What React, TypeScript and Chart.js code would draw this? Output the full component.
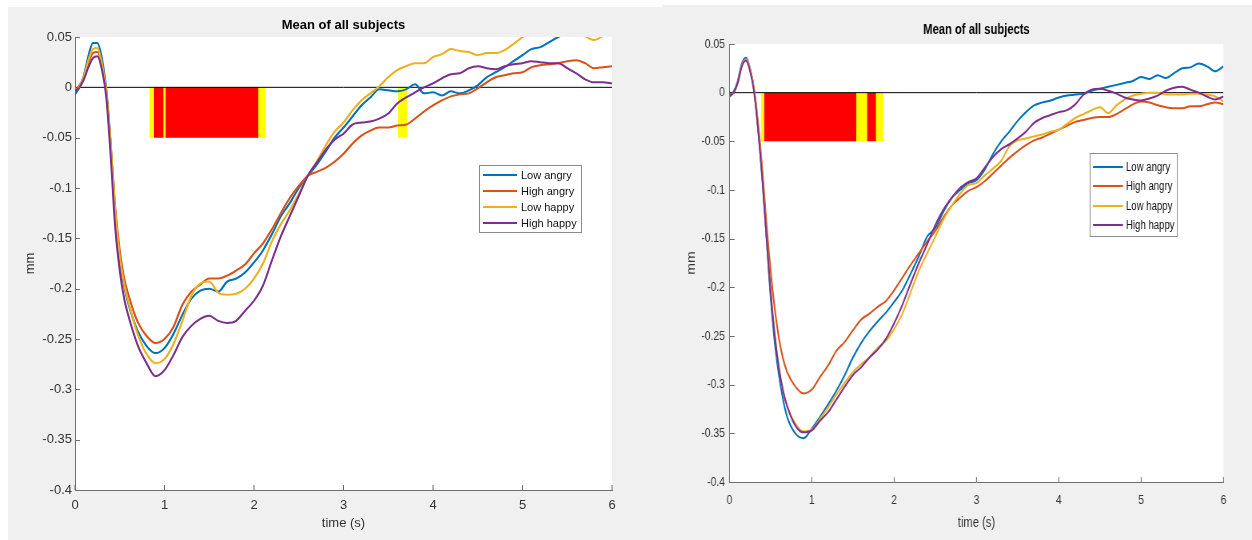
import React, { useEffect, useRef } from "react";
import { Chart, registerables } from "chart.js";

Chart.register(...registerables);

// ---------------- data ----------------
const SERIES_LABELS = ["Low angry", "High angry", "Low happy", "High happy"];
const SERIES_COLORS = ["#0072BD", "#D95319", "#EDB120", "#7E2F8E"];
const PANEL_TITLE = "Mean of all subjects";
const X_TITLE = "time (s)";
const Y_TITLE = "mm";
const X_TICKS = [0, 1, 2, 3, 4, 5, 6];
const Y_TICKS = [0.05, 0, -0.05, -0.1, -0.15, -0.2, -0.25, -0.3, -0.35, -0.4];
const SHADE_DEPTH = -0.05;

const LEFT_TIME = [0, 0.05, 0.1, 0.15, 0.2, 0.25, 0.3, 0.35, 0.4, 0.45, 0.5, 0.55, 0.6,
  0.7, 0.8, 0.9, 1.0, 1.1, 1.2, 1.3, 1.4, 1.5, 1.6, 1.7, 1.8, 1.9, 2.0, 2.1, 2.2, 2.3, 2.4, 2.5, 2.6, 2.7, 2.8, 2.9,
  3.0, 3.1, 3.2, 3.3, 3.4, 3.5, 3.6, 3.7, 3.8, 3.9, 4.0, 4.1, 4.2, 4.3, 4.4, 4.5, 4.6, 4.7, 4.8, 4.9,
  5.0, 5.1, 5.2, 5.3, 5.4, 5.5, 5.6, 5.7, 5.8, 5.9, 6.0];
const LEFT_LOW_ANGRY = [-0.007, 0.0, 0.012, 0.031, 0.044, 0.044, 0.029, -0.002, -0.058, -0.125, -0.172, -0.198, -0.216,
  -0.242, -0.257, -0.264, -0.259, -0.245, -0.226, -0.21, -0.202, -0.2, -0.203, -0.193, -0.19, -0.184, -0.174, -0.162, -0.146, -0.128, -0.115, -0.1, -0.088, -0.077, -0.064, -0.05,
  -0.04, -0.029, -0.018, -0.01, -0.002, -0.003, -0.004, -0.002, 0.003, -0.006, -0.005, -0.008, -0.004, -0.006, -0.003, 0.002, 0.01, 0.015, 0.02, 0.026,
  0.032, 0.038, 0.04, 0.045, 0.05, 0.054, 0.057, 0.06, 0.063, 0.066, 0.068];
const LEFT_HIGH_ANGRY = [-0.003, 0.002, 0.01, 0.024, 0.034, 0.035, 0.022, -0.005, -0.06, -0.12, -0.162, -0.19, -0.207,
  -0.233, -0.247, -0.254, -0.25, -0.238, -0.216, -0.203, -0.196, -0.19, -0.19, -0.187, -0.182, -0.176, -0.165, -0.155, -0.141, -0.125, -0.11, -0.098, -0.088, -0.084, -0.08, -0.074,
  -0.066, -0.056, -0.048, -0.043, -0.04, -0.04, -0.038, -0.037, -0.031, -0.024, -0.018, -0.013, -0.009, -0.007, -0.006, -0.001, 0.005, 0.01, 0.012, 0.014,
  0.015, 0.02, 0.022, 0.023, 0.024, 0.026, 0.027, 0.024, 0.019, 0.02, 0.021];
const LEFT_LOW_HAPPY = [-0.004, 0.001, 0.011, 0.027, 0.038, 0.039, 0.024, -0.004, -0.058, -0.122, -0.168, -0.196, -0.214,
  -0.245, -0.265, -0.274, -0.27, -0.255, -0.232, -0.207, -0.195, -0.193, -0.204, -0.206, -0.205, -0.2, -0.19, -0.175, -0.153, -0.136, -0.122, -0.106, -0.088, -0.074, -0.058, -0.044,
  -0.035, -0.023, -0.013, -0.006, 0.001, 0.01, 0.017, 0.021, 0.024, 0.024, 0.03, 0.033, 0.038, 0.036, 0.035, 0.032, 0.034, 0.034, 0.037, 0.043,
  0.05, 0.056, 0.06, 0.062, 0.064, 0.064, 0.06, 0.051, 0.047, 0.051, 0.056];
const LEFT_HIGH_HAPPY = [-0.004, 0.0, 0.008, 0.02, 0.029, 0.031, 0.018, -0.01, -0.07, -0.14, -0.182, -0.21, -0.228,
  -0.256, -0.274, -0.287, -0.281, -0.266, -0.248, -0.237, -0.23, -0.227, -0.232, -0.234, -0.232, -0.222, -0.212, -0.197, -0.172, -0.148, -0.128, -0.108, -0.088, -0.075, -0.062, -0.052,
  -0.046, -0.037, -0.035, -0.034, -0.031, -0.026, -0.016, -0.01, -0.005, 0.0, 0.004, 0.009, 0.013, 0.014, 0.019, 0.021, 0.019, 0.018, 0.021, 0.023,
  0.024, 0.026, 0.025, 0.024, 0.024, 0.019, 0.014, 0.008, 0.005, 0.005, 0.004];
const LEFT_YELLOW = [[0.83, 2.13], [3.61, 3.71]];
const LEFT_RED = [[0.88, 0.99], [1.01, 2.05]];

const RIGHT_TIME = [0, 0.05, 0.1, 0.15, 0.2, 0.25, 0.3, 0.35, 0.4, 0.45, 0.5, 0.55, 0.6, 0.65, 0.7,
  0.8, 0.9, 1.0, 1.1, 1.2, 1.3, 1.4, 1.5, 1.6, 1.7, 1.8, 1.9, 2.0, 2.1, 2.2, 2.3, 2.4, 2.5, 2.6, 2.7, 2.8, 2.9,
  3.0, 3.1, 3.2, 3.3, 3.4, 3.5, 3.6, 3.7, 3.8, 3.9, 4.0, 4.1, 4.2, 4.3, 4.4, 4.5, 4.6, 4.7, 4.8, 4.9,
  5.0, 5.1, 5.2, 5.3, 5.4, 5.5, 5.6, 5.7, 5.8, 5.9, 6.0];
const RIGHT_LOW_ANGRY = [-0.003, 0.001, 0.012, 0.03, 0.036, 0.025, 0.002, -0.04, -0.09, -0.15, -0.21, -0.257, -0.29, -0.315, -0.333,
  -0.35, -0.355, -0.345, -0.333, -0.32, -0.306, -0.29, -0.272, -0.257, -0.245, -0.235, -0.226, -0.215, -0.203, -0.186, -0.168, -0.148, -0.139, -0.122, -0.108, -0.1, -0.093,
  -0.09, -0.079, -0.063, -0.05, -0.04, -0.029, -0.02, -0.013, -0.01, -0.008, -0.005, -0.003, -0.002, -0.001, 0.002, 0.004, 0.006, 0.008, 0.01, 0.012,
  0.016, 0.014, 0.018, 0.015, 0.02, 0.025, 0.026, 0.03, 0.027, 0.022, 0.027];
const RIGHT_HIGH_ANGRY = [-0.003, 0.0, 0.01, 0.028, 0.034, 0.024, 0.003, -0.033, -0.08, -0.135, -0.183, -0.222, -0.252, -0.273, -0.287,
  -0.302, -0.309, -0.305, -0.292, -0.28, -0.265, -0.256, -0.244, -0.233, -0.227, -0.22, -0.214, -0.203, -0.19, -0.177, -0.165, -0.153, -0.142, -0.128, -0.116, -0.108, -0.101,
  -0.097, -0.091, -0.083, -0.075, -0.067, -0.06, -0.054, -0.049, -0.046, -0.042, -0.038, -0.034, -0.03, -0.028, -0.026, -0.025, -0.025, -0.022, -0.017, -0.012,
  -0.009, -0.01, -0.013, -0.015, -0.016, -0.016, -0.014, -0.014, -0.012, -0.01, -0.012];
const RIGHT_LOW_HAPPY = [-0.004, 0.0, 0.01, 0.028, 0.034, 0.024, 0.002, -0.037, -0.087, -0.146, -0.203, -0.248, -0.282, -0.306, -0.322,
  -0.34, -0.348, -0.346, -0.335, -0.323, -0.31, -0.298, -0.287, -0.279, -0.272, -0.262, -0.255, -0.243, -0.227, -0.205, -0.183, -0.165, -0.148, -0.13, -0.116, -0.104, -0.095,
  -0.093, -0.085, -0.078, -0.07, -0.055, -0.049, -0.047, -0.045, -0.043, -0.04, -0.038, -0.032, -0.026, -0.022, -0.018, -0.015, -0.021, -0.013, -0.007, -0.003,
  -0.001, 0.0, 0.0, -0.002, -0.002, -0.002, -0.001, -0.001, -0.002, -0.004, -0.009];
const RIGHT_HIGH_HAPPY = [-0.004, 0.0, 0.01, 0.027, 0.033, 0.022, 0.0, -0.04, -0.09, -0.148, -0.205, -0.25, -0.283, -0.306, -0.322,
  -0.342, -0.349, -0.347, -0.337, -0.328, -0.315, -0.302, -0.29, -0.282, -0.272, -0.264, -0.253, -0.237, -0.218, -0.196, -0.175, -0.156, -0.136, -0.12, -0.108, -0.098, -0.092,
  -0.088, -0.077, -0.066, -0.058, -0.053, -0.047, -0.04, -0.031, -0.026, -0.023, -0.02, -0.018, -0.012, -0.002, 0.003, 0.004, 0.002, -0.001, -0.005, -0.007,
  -0.008, -0.006, -0.003, 0.002, 0.005, 0.006, 0.003, 0.0, -0.004, -0.007, -0.004];
const RIGHT_YELLOW = [[0.38, 1.87]];
const RIGHT_RED = [[0.42, 1.54], [1.67, 1.78]];

// ---------------- layout / style ----------------
const FONT = "'Liberation Sans', Arial, Helvetica, sans-serif";
const AXIS_COLOR = "#6e6e6e";
const TEXT_COLOR = "#333333";
const PANEL_BG = "#f0f0f0";

type Layout = {
  canvasLeft: number; canvasTop: number; cssWidth: number; height: number; sx: number;
  plotLeft: number; plotRight: number; plotTop: number; plotBottom: number;
  titleSize: number; titleY: number;
  tickSize: number; yLabelRight: number; xLabelY: number;
  axisTitleSize: number; xTitleY: number; yTitleX: number;
  tickLen: number;
  legendSize: number; legendBox: number[]; legendLine: number[]; legendText: number; legendRows: number[];
};

const LEFT_LAYOUT: Layout = {
  canvasLeft: 8, canvasTop: 7, cssWidth: 654, height: 533, sx: 1,
  plotLeft: 75, plotRight: 612, plotTop: 37, plotBottom: 490,
  titleSize: 13, titleY: 25,
  tickSize: 13, yLabelRight: 72, xLabelY: 505,
  axisTitleSize: 13, xTitleY: 523, yTitleX: 30,
  tickLen: 5,
  legendSize: 11, legendBox: [479, 165, 581, 232], legendLine: [483, 517], legendText: 521, legendRows: [175, 191, 207, 223],
};

const RIGHT_LAYOUT: Layout = {
  canvasLeft: 662, canvasTop: 5, cssWidth: 590, height: 535, sx: 0.8,
  plotLeft: 729.5, plotRight: 1223.5, plotTop: 44, plotBottom: 482,
  titleSize: 14, titleY: 30,
  tickSize: 13, yLabelRight: 725, xLabelY: 500,
  axisTitleSize: 14, xTitleY: 523, yTitleX: 692,
  tickLen: 5,
  legendSize: 12, legendBox: [1090, 153, 1177, 236], legendLine: [1093, 1123], legendText: 1126, legendRows: [167, 186, 206, 225],
};

type PanelProps = {
  layout: Layout;
  time: number[];
  series: number[][];
  yellow: number[][];
  red: number[][];
};

function ChartPanel({ layout: L, time, series, yellow, red }: PanelProps) {
  const ref = useRef<HTMLCanvasElement | null>(null);
  const internalW = Math.round(L.cssWidth / L.sx);
  const sx = L.cssWidth / internalW;

  useEffect(() => {
    const canvas = ref.current;
    if (!canvas) return;
    const px = (x: number) => (x - L.canvasLeft) / sx;
    const py = (y: number) => y - L.canvasTop;

    const yAxisW = px(L.plotLeft);
    const padRight = internalW - px(L.plotRight);
    const padTop = py(L.plotTop);
    const xAxisH = L.height - py(L.plotBottom);
    const tickLH = L.tickSize * 1.2;
    const yTickPad = Math.max(0, yAxisW - px(L.yLabelRight));
    const xTickPad = py(L.xLabelY) - py(L.plotBottom) - tickLH / 2;
    const axLH = L.axisTitleSize * 1.2;
    const xTitlePadBottom = L.height - py(L.xTitleY) - axLH / 2;
    const yTitlePadTop = px(L.yTitleX) - axLH / 2;

    const datasets: any[] = [];
    yellow.forEach(([a, b]) => datasets.push({
      label: "_yellow", data: [{ x: a, y: 0 }, { x: b, y: 0 }],
      borderWidth: 0, borderColor: "rgba(0,0,0,0)", backgroundColor: "#ffff00",
      fill: { value: SHADE_DEPTH }, pointRadius: 0, order: 20,
    }));
    red.forEach(([a, b]) => datasets.push({
      label: "_red", data: [{ x: a, y: 0 }, { x: b, y: 0 }],
      borderWidth: 0, borderColor: "rgba(0,0,0,0)", backgroundColor: "#ff0000",
      fill: { value: SHADE_DEPTH }, pointRadius: 0, order: 19,
    }));
    datasets.push({
      label: "_zero", data: [{ x: X_TICKS[0], y: 0 }, { x: X_TICKS[X_TICKS.length - 1], y: 0 }],
      borderWidth: 1, borderColor: "#000000", pointRadius: 0, fill: false, order: 10,
    });
    series.forEach((vals, i) => datasets.push({
      label: SERIES_LABELS[i],
      data: time.map((t, k) => ({ x: t, y: vals[k] })),
      borderColor: SERIES_COLORS[i], borderWidth: 2, pointRadius: 0, fill: false,
      cubicInterpolationMode: "monotone", order: 4 - i,
    }));

    const deco = {
      id: "deco",
      beforeDraw(chart: any) {
        const { ctx, chartArea: a } = chart;
        ctx.save();
        ctx.fillStyle = "#ffffff";
        ctx.fillRect(a.left, a.top, a.right - a.left, a.bottom - a.top);
        ctx.restore();
      },
      afterDraw(chart: any) {
        const { ctx, chartArea: a } = chart;
        const xs = chart.scales.x;
        const ys = chart.scales.y;
        ctx.save();
        // title centred over the axes
        ctx.fillStyle = "#000000";
        ctx.font = `bold ${L.titleSize}px ${FONT}`;
        ctx.textAlign = "center";
        ctx.textBaseline = "middle";
        ctx.fillText(PANEL_TITLE, (a.left + a.right) / 2, py(L.titleY));

        // inward tick marks
        ctx.strokeStyle = AXIS_COLOR;
        ctx.lineWidth = 1;
        ctx.beginPath();
        xs.ticks.forEach((t: any) => {
          const x = xs.getPixelForValue(t.value);
          ctx.moveTo(x, a.bottom);
          ctx.lineTo(x, a.bottom - L.tickLen);
        });
        ys.ticks.forEach((t: any) => {
          const y = Math.round(ys.getPixelForValue(t.value)) + 0.5;
          ctx.moveTo(a.left, y);
          ctx.lineTo(a.left + L.tickLen / sx, y);
        });
        ctx.stroke();

        // legend inside the axes
        const [bx0, by0, bx1, by1] = L.legendBox;
        const X0 = px(bx0), Y0 = py(by0), X1 = px(bx1), Y1 = py(by1);
        ctx.fillStyle = "#ffffff";
        ctx.fillRect(X0, Y0, X1 - X0, Y1 - Y0);
        ctx.strokeStyle = "#8a8a8a";
        ctx.lineWidth = 1;
        ctx.strokeRect(Math.round(X0) + 0.5, Math.round(Y0) + 0.5, Math.round(X1 - X0), Math.round(Y1 - Y0));
        ctx.font = `${L.legendSize}px ${FONT}`;
        ctx.textBaseline = "middle";
        ctx.textAlign = "left";
        SERIES_LABELS.forEach((lab, i) => {
          const y = py(L.legendRows[i]);
          ctx.strokeStyle = SERIES_COLORS[i];
          ctx.lineWidth = 2.2;
          ctx.beginPath();
          ctx.moveTo(px(L.legendLine[0]), y);
          ctx.lineTo(px(L.legendLine[1]), y);
          ctx.stroke();
          ctx.fillStyle = "#111111";
          ctx.fillText(lab, px(L.legendText), y + 0.5);
        });
        ctx.restore();
      },
    };

    const tickFont = { family: FONT, size: L.tickSize };
    const axFont = { family: FONT, size: L.axisTitleSize };

    const chart = new Chart(canvas, {
      type: "line",
      data: { datasets },
      plugins: [deco],
      options: {
        responsive: false,
        animation: false,
        devicePixelRatio: 1,
        events: [],
        layout: { padding: { left: 0, top: padTop, right: padRight, bottom: 0 } },
        plugins: {
          legend: { display: false },
          tooltip: { enabled: false },
          title: { display: false },
        },
        scales: {
          x: {
            type: "linear",
            min: X_TICKS[0],
            max: X_TICKS[X_TICKS.length - 1],
            afterBuildTicks: (s: any) => { s.ticks = X_TICKS.map((v) => ({ value: v })); },
            afterFit: (s: any) => { s.height = xAxisH; },
            ticks: {
              autoSkip: false, maxRotation: 0, font: tickFont, color: TEXT_COLOR, padding: xTickPad,
              callback: (v: any) => String(v),
            },
            grid: { display: true, drawOnChartArea: false, drawTicks: false },
            border: { display: true, color: AXIS_COLOR, width: 1 },
            title: {
              display: true, text: X_TITLE, color: TEXT_COLOR, font: axFont,
              padding: { top: 0, bottom: xTitlePadBottom },
            },
          },
          y: {
            type: "linear",
            min: Y_TICKS[Y_TICKS.length - 1],
            max: Y_TICKS[0],
            afterBuildTicks: (s: any) => { s.ticks = Y_TICKS.slice().reverse().map((v) => ({ value: v })); },
            afterFit: (s: any) => { s.width = yAxisW; },
            ticks: {
              autoSkip: false, font: tickFont, color: TEXT_COLOR, padding: yTickPad,
              callback: (v: any) => String(v),
            },
            grid: { display: true, drawOnChartArea: false, drawTicks: false },
            border: { display: true, color: AXIS_COLOR, width: 1 },
            title: {
              display: true, text: Y_TITLE, color: TEXT_COLOR, font: axFont,
              padding: { top: yTitlePadTop, bottom: 0 },
            },
          },
        },
      } as any,
    });
    return () => chart.destroy();
  }, []);

  return (
    <canvas
      ref={ref}
      width={internalW}
      height={L.height}
      style={{
        position: "absolute",
        left: L.canvasLeft,
        top: L.canvasTop,
        width: L.cssWidth,
        height: L.height,
        background: PANEL_BG,
      }}
    />
  );
}

export default function App() {
  return (
    <div>
      <ChartPanel
        layout={LEFT_LAYOUT}
        time={LEFT_TIME}
        series={[LEFT_LOW_ANGRY, LEFT_HIGH_ANGRY, LEFT_LOW_HAPPY, LEFT_HIGH_HAPPY]}
        yellow={LEFT_YELLOW}
        red={LEFT_RED}
      />
      <ChartPanel
        layout={RIGHT_LAYOUT}
        time={RIGHT_TIME}
        series={[RIGHT_LOW_ANGRY, RIGHT_HIGH_ANGRY, RIGHT_LOW_HAPPY, RIGHT_HIGH_HAPPY]}
        yellow={RIGHT_YELLOW}
        red={RIGHT_RED}
      />
    </div>
  );
}
